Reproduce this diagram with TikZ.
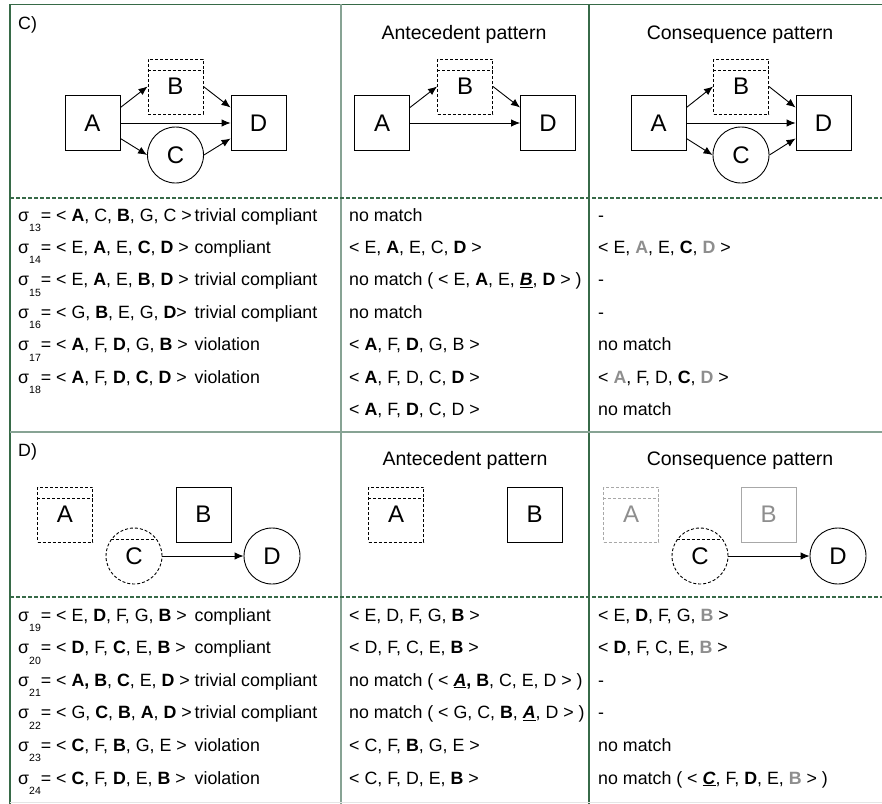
\documentclass[tikz,border=0pt]{standalone}
\usepackage{fontspec}
\setmainfont{Liberation Sans}
\usepackage{xcolor}
\usetikzlibrary{arrows.meta}

\definecolor{darkline}{HTML}{376A48}
\definecolor{lightline}{HTML}{87A394}
\definecolor{grey}{HTML}{8E8E8E}
\definecolor{greyline}{HTML}{A8A8A8}

\newcommand{\sig}[1]{σ\raisebox{-10.5bp}{\fontsize{10.5bp}{11bp}\selectfont #1}}
\newcommand{\gb}[1]{\textcolor{grey}{\textbf{#1}}}
\newcommand{\ub}[1]{\underline{\textbf{\textit{#1}}}}

\begin{document}
\begin{tikzpicture}
                [
                x=1bp, y=-1bp,
                box/.style={rectangle,draw,line width=0.9bp,minimum size=55bp,inner sep=0pt,font=\fontsize{24bp}{26bp}\selectfont},
                dbox/.style={box,dash pattern=on 3bp off 2bp},
                circ/.style={circle,draw,line width=0.9bp,minimum size=56bp,inner sep=0pt,font=\fontsize{24bp}{26bp}\selectfont},
                dcirc/.style={circ,dash pattern=on 3bp off 2bp},
                faded/.style={draw=greyline,text=grey},
                hline/.style={line width=0.9bp,dash pattern=on 3bp off 2bp},
                edge/.style={->,> = {Latex[length=9bp,width=7.5bp]},line width=0.9bp},
                row/.style={anchor=base west,inner sep=0pt,font=\fontsize{17.8bp}{20bp}\selectfont},
                head/.style={anchor=base,inner sep=0pt,font=\fontsize{19.5bp}{22bp}\selectfont},
                grid/.style={line width=1.2bp,draw=darkline}
                ]
            \useasboundingbox (0,0) rectangle (882,804);
            % table
            \draw[grid] (10,4.5) -- (882,4.5);
            \draw[grid] (10,4.5) -- (10,804);
            \draw[grid,draw=lightline] (341,4.5) -- (341,804);
            \draw[grid] (589,4.5) -- (589,804);
            \draw[grid,dash pattern=on 4bp off 2bp] (10,198) -- (882,198);
            \draw[grid,draw=lightline,line width=1.6bp] (10,432) -- (882,432);
            \draw[grid,dash pattern=on 4bp off 2bp] (10,597) -- (882,597);
            \draw[draw=black!10] (10,802) -- (882,802);

            % C) patterns
            \node[row] (labC) at (18,30) {C)};
            \node[head] (antC) at (464,39.5) {Antecedent pattern};
            \node[head] (conC) at (740,39.5) {Consequence pattern};

            \node[box] (A1) at (92.5,123) {A};
            \node[dbox] (B1) at (175.5,86.5) {B};
            \node[circ] (C1) at (175.5,155) {C};
            \node[box] (D1) at (258.5,123) {D};
            \draw[edge] (A1.29) -- (B1.west);
            \draw[edge] (B1.east) -- (D1.151);
            \draw[edge] (A1.east) -- (D1.west);
            \draw[edge] (A1.331) -- (C1.west);
            \draw[edge] (C1.east) -- (D1.209);

            \node[box] (A2) at (382,123) {A};
            \node[dbox] (B2) at (465,86.5) {B};
            \node[box] (D2) at (548,123) {D};
            \draw[edge] (A2.29) -- (B2.west);
            \draw[edge] (B2.east) -- (D2.151);
            \draw[edge] (A2.east) -- (D2.west);

            \node[box] (A3) at (658.5,123) {A};
            \node[dbox] (B3) at (741,86.5) {B};
            \node[circ] (C3) at (741,155) {C};
            \node[box] (D3) at (823.5,123) {D};
            \draw[edge] (A3.29) -- (B3.west);
            \draw[edge] (B3.east) -- (D3.151);
            \draw[edge] (A3.east) -- (D3.west);
            \draw[edge] (A3.331) -- (C3.west);
            \draw[edge] (C3.east) -- (D3.209);

            % C) traces
            \node[row] (r13) at (18,221) {\sig{13}= < \textbf{A}, C, \textbf{B}, G, C >};
            \node[row] (s13) at (194.5,221) {trivial compliant};
            \node[row] (r14) at (18,253.4) {\sig{14}= < E, \textbf{A}, E, \textbf{C}, \textbf{D} >};
            \node[row] (s14) at (194.5,253.4) {compliant};
            \node[row] (r15) at (18,285.8) {\sig{15}= < E, \textbf{A}, E, \textbf{B}, \textbf{D} >};
            \node[row] (s15) at (194.5,285.8) {trivial compliant};
            \node[row] (r16) at (18,318.2) {\sig{16}= < G, \textbf{B}, E, G, \textbf{D}>};
            \node[row] (s16) at (194.5,318.2) {trivial compliant};
            \node[row] (r17) at (18,350.6) {\sig{17}= < \textbf{A}, F, \textbf{D}, G, \textbf{B} >};
            \node[row] (s17) at (194.5,350.6) {violation};
            \node[row] (r18) at (18,383) {\sig{18}= < \textbf{A}, F, \textbf{D}, \textbf{C}, \textbf{D} >};
            \node[row] (s18) at (194.5,383) {violation};

            \node[row] (p13) at (349,221) {no match};
            \node[row] (p14) at (349,253.4) {< E, \textbf{A}, E, C, \textbf{D} >};
            \node[row] (p15) at (349,285.8) {no match ( < E, \textbf{A}, E, \ub{B}, \textbf{D} > )};
            \node[row] (p16) at (349,318.2) {no match};
            \node[row] (p17) at (349,350.6) {< \textbf{A}, F, \textbf{D}, G, B >};
            \node[row] (p18) at (349,383) {< \textbf{A}, F, D, C, \textbf{D} >};
            \node[row] (p18b) at (349,415.4) {< \textbf{A}, F, \textbf{D}, C, D >};

            \node[row] (q13) at (598,221) {-};
            \node[row] (q14) at (598,253.4) {< E, \gb{A}, E, \textbf{C}, \gb{D} >};
            \node[row] (q15) at (598,285.8) {-};
            \node[row] (q16) at (598,318.2) {-};
            \node[row] (q17) at (598,350.6) {no match};
            \node[row] (q18) at (598,383) {< \gb{A}, F, D, \textbf{C}, \gb{D} >};
            \node[row] (q18b) at (598,415.4) {no match};

            % D) patterns
            \node[row] (labD) at (18,456) {D)};
            \node[head] (antD) at (465,465) {Antecedent pattern};
            \node[head] (conD) at (740,465) {Consequence pattern};

            \node[dbox] (A4) at (65,514.5) {A};
            \node[box] (B4) at (203.5,514.5) {B};
            \node[dcirc] (C4) at (134,556) {C};
            \node[circ] (D4) at (272,556) {D};
            \draw[edge] (C4.east) -- (D4.west);

            \node[dbox] (A5) at (396,514.5) {A};
            \node[box] (B5) at (534.5,514.5) {B};

            \node[dbox,faded] (A6) at (631,514.5) {A};
            \node[box,faded] (B6) at (768.5,514.5) {B};
            \node[dcirc] (C6) at (700,556) {C};
            \node[circ] (D6) at (838,556) {D};
            \draw[edge] (C6.east) -- (D6.west);

            \foreach \n in {B1,B2,B3,A4,A5}
                \draw[hline] ([yshift=-12bp]\n.north west) -- ([yshift=-12bp]\n.north east);
            \draw[hline,draw=greyline] ([yshift=-12bp]A6.north west) -- ([yshift=-12bp]A6.north east);
            \draw[hline] (C4.145) -- (C4.35);
            \draw[hline] (C6.145) -- (C6.35);

            % D) traces
            \node[row] (r19) at (18,621) {\sig{19}= < E, \textbf{D}, F, G, \textbf{B} >};
            \node[row] (s19) at (194.5,621) {compliant};
            \node[row] (r20) at (18,653.6) {\sig{20}= < \textbf{D}, F, \textbf{C}, E, \textbf{B} >};
            \node[row] (s20) at (194.5,653.6) {compliant};
            \node[row] (r21) at (18,686.2) {\sig{21}= < \textbf{A, B}, \textbf{C}, E, \textbf{D} >};
            \node[row] (s21) at (194.5,686.2) {trivial compliant};
            \node[row] (r22) at (18,718.8) {\sig{22}= < G, \textbf{C}, \textbf{B}, \textbf{A}, \textbf{D} >};
            \node[row] (s22) at (194.5,718.8) {trivial compliant};
            \node[row] (r23) at (18,751.4) {\sig{23}= < \textbf{C}, F, \textbf{B}, G, E >};
            \node[row] (s23) at (194.5,751.4) {violation};
            \node[row] (r24) at (18,784) {\sig{24}= < \textbf{C}, F, \textbf{D}, E, \textbf{B} >};
            \node[row] (s24) at (194.5,784) {violation};

            \node[row] (p19) at (349,621) {< E, D, F, G, \textbf{B} >};
            \node[row] (p20) at (349,653.6) {< D, F, C, E, \textbf{B} >};
            \node[row] (p21) at (349,686.2) {no match ( < \ub{A}\textbf{,} \textbf{B}, C, E, D > )};
            \node[row] (p22) at (349,718.8) {no match ( < G, C, \textbf{B}, \ub{A}, D > )};
            \node[row] (p23) at (349,751.4) {< C, F, \textbf{B}, G, E >};
            \node[row] (p24) at (349,784) {< C, F, D, E, \textbf{B} >};

            \node[row] (q19) at (598,621) {< E, \textbf{D}, F, G, \gb{B} >};
            \node[row] (q20) at (598,653.6) {< \textbf{D}, F, C, E, \gb{B} >};
            \node[row] (q21) at (598,686.2) {-};
            \node[row] (q22) at (598,718.8) {-};
            \node[row] (q23) at (598,751.4) {no match};
            \node[row] (q24) at (598,784) {no match ( < \ub{C}, F, \textbf{D}, E, \gb{B} > )};
            \end{tikzpicture}
\end{document}
